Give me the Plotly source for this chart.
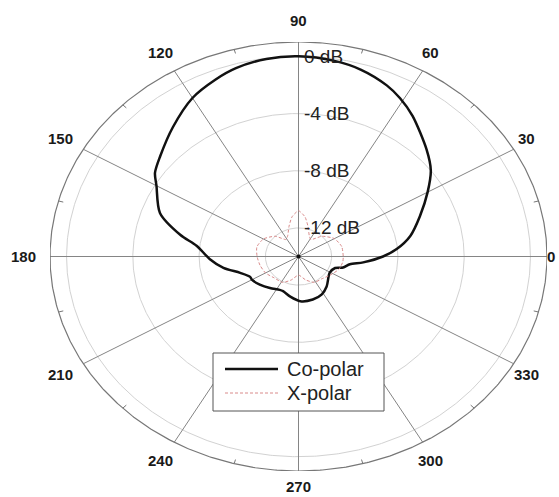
import numpy as np
import plotly.graph_objects as go

# Measured radiation pattern: azimuth angle (deg) and normalised gain (dB)
co_theta = [0, 5, 12, 21, 30, 37, 44, 55, 61, 66, 74, 81, 90, 98, 106, 112, 120,
            130, 140, 146, 150, 160, 168, 173, 182, 190, 198, 206, 210, 220, 232,
            244, 249, 260, 272, 286, 298, 309, 329, 340, 344, 350, 354, 360]
co_db = [-8.9, -8.05, -7.1, -6.15, -5.0, -4.0, -3.25, -2.0, -1.35, -0.9, -0.4, -0.15,
         0.0, -0.05, -0.3, -0.65, -1.2, -2.2, -3.1, -3.55, -4.1, -5.1, -6.7, -7.8,
         -8.65, -9.4, -10.3, -10.75, -10.75, -10.95, -11.2, -11.4, -11.4, -11.15,
         -10.87, -10.87, -11.0, -11.3, -11.8, -11.65, -11.2, -10.85, -10.07, -8.9]

x_theta = [0, 15, 30, 45, 58, 66, 75, 82, 90, 98, 105, 114, 122, 135, 150, 165,
           180, 195, 210, 225, 242, 255, 270, 285, 298, 312, 325, 340, 352, 360]
x_db = [-11.3, -11.3, -11.5, -12.0, -12.6, -12.4, -11.8, -11.2, -10.8, -11.2,
        -11.8, -12.4, -12.6, -12.0, -11.55, -11.4, -11.5, -11.6, -11.7, -11.9,
        -11.95, -12.3, -12.7, -12.3, -11.95, -11.9, -11.7, -11.4, -11.3, -11.3]

series_names = ["Co-polar", "X-polar"]
ring_db = [0, -4, -8, -12]
ring_labels = ["0 dB", "-4 dB", "-8 dB", "-12 dB"]
angle_ticks = list(range(0, 360, 30))
angle_labels = [str(a) for a in angle_ticks]
minor_ticks = list(range(15, 360, 30))

R_MIN, R_MAX = -14.0, 1.0
R_OUT = R_MAX - R_MIN

W, H = 559, 497
M_L, M_R, M_T, M_B = 50, 12, 42, 26

CO_LINE = dict(color="#111111", width=2.5)
X_LINE = dict(color="#d98a8a", width=1, dash="3px,2px")
FONT = "Liberation Sans, Arial"


def to_xy(theta_deg, db):
    t = np.radians(np.asarray(theta_deg, dtype=float))
    rho = np.asarray(db, dtype=float) - R_MIN
    return rho * np.cos(t), rho * np.sin(t)


def to_paper(v):
    # axis value -> fraction of the plotting area (axis spans [-R_OUT, R_OUT])
    return (v + R_OUT) / (2 * R_OUT)


def px_x(p):
    return (p - M_L) / (W - M_L - M_R)


def px_y(p):
    return (H - M_B - p) / (H - M_T - M_B)


fig = go.Figure()

# dB rings
phi = np.linspace(0, 360, 721)
for r in ring_db:
    gx, gy = to_xy(phi, np.full_like(phi, r))
    fig.add_trace(go.Scatter(x=gx, y=gy, mode="lines", hoverinfo="skip",
                             line=dict(color="#d2d2d2", width=1), showlegend=False))

# angular spokes
sx, sy = [], []
for a in angle_ticks:
    ex, ey = to_xy([a], [R_MAX])
    sx += [0, ex[0], None]
    sy += [0, ey[0], None]
fig.add_trace(go.Scatter(x=sx, y=sy, mode="lines", hoverinfo="skip",
                         line=dict(color="#858585", width=1), showlegend=False))

# outer boundary
ox, oy = to_xy(phi, np.full_like(phi, R_MAX))
fig.add_trace(go.Scatter(x=ox, y=oy, mode="lines", hoverinfo="skip",
                         line=dict(color="#777777", width=1.2), showlegend=False))

# small inward ticks on the boundary
tx, ty = [], []
for a in minor_ticks:
    ix, iy = to_xy([a, a], [R_MAX, R_MAX - 0.3])
    tx += [ix[0], ix[1], None]
    ty += [iy[0], iy[1], None]
fig.add_trace(go.Scatter(x=tx, y=ty, mode="lines", hoverinfo="skip",
                         line=dict(color="#777777", width=1), showlegend=False))

# pattern curves
cx, cy = to_xy(co_theta, co_db)
fig.add_trace(go.Scatter(x=cx, y=cy, mode="lines", name=series_names[0], showlegend=False,
                         line=dict(**CO_LINE, shape="spline", smoothing=0.8)))
xx, xy = to_xy(x_theta, x_db)
fig.add_trace(go.Scatter(x=xx, y=xy, mode="lines", name=series_names[1], showlegend=False,
                         line=dict(**X_LINE, shape="spline", smoothing=0.6)))

# centre point
fig.add_trace(go.Scatter(x=[0], y=[0], mode="markers", hoverinfo="skip",
                         marker=dict(color="#111111", size=4), showlegend=False))

annotations = []
angle_font = dict(family=FONT, size=15, color="#1a1a1a", weight="bold")
for a, lab in zip(angle_ticks, angle_labels):
    c, s = np.cos(np.radians(a)), np.sin(np.radians(a))
    if a == 0:
        # right-hand label sits against the page edge
        annotations.append(dict(x=1.02, y=to_paper(0), xref="paper", yref="paper",
                                text=lab, showarrow=False, xanchor="right",
                                yanchor="middle", font=angle_font))
        continue
    rx = 15.9 if c > -0.1 else 16.6
    ry = 16.1 if a == 270 else 16.5
    annotations.append(dict(x=to_paper(rx * c), y=to_paper(ry * s),
                            xref="paper", yref="paper", text=lab, showarrow=False,
                            xanchor="center", yanchor="middle", font=angle_font))
for r, lab in zip(ring_db, ring_labels):
    annotations.append(dict(x=0, y=r - R_MIN, text=lab, showarrow=False,
                            xanchor="left", yanchor="middle", xshift=3,
                            font=dict(family=FONT, size=19, color="#222222")))

# legend box with line samples
shapes = [dict(type="rect", xref="paper", yref="paper",
               x0=px_x(213), x1=px_x(384), y0=px_y(411), y1=px_y(353),
               fillcolor="white", line=dict(color="#555555", width=1), layer="above")]
for name, style, ypx in zip(series_names, [CO_LINE, X_LINE], [369, 393]):
    shapes.append(dict(type="line", xref="paper", yref="paper",
                       x0=px_x(225), x1=px_x(278), y0=px_y(ypx), y1=px_y(ypx),
                       line=style, layer="above"))
    annotations.append(dict(x=px_x(285), y=px_y(ypx), xref="paper", yref="paper",
                            text=name, showarrow=False, xanchor="left", yanchor="middle",
                            font=dict(family=FONT, size=20, color="#222222")))

fig.update_layout(
    width=W, height=H, autosize=False,
    paper_bgcolor="white", plot_bgcolor="white",
    margin=dict(l=M_L, r=M_R, t=M_T, b=M_B),
    xaxis=dict(range=[-R_OUT, R_OUT], visible=False, fixedrange=True),
    yaxis=dict(range=[-R_OUT, R_OUT], visible=False, fixedrange=True),
    annotations=annotations,
    shapes=shapes,
    showlegend=False,
)

fig.write_html("out.html")
